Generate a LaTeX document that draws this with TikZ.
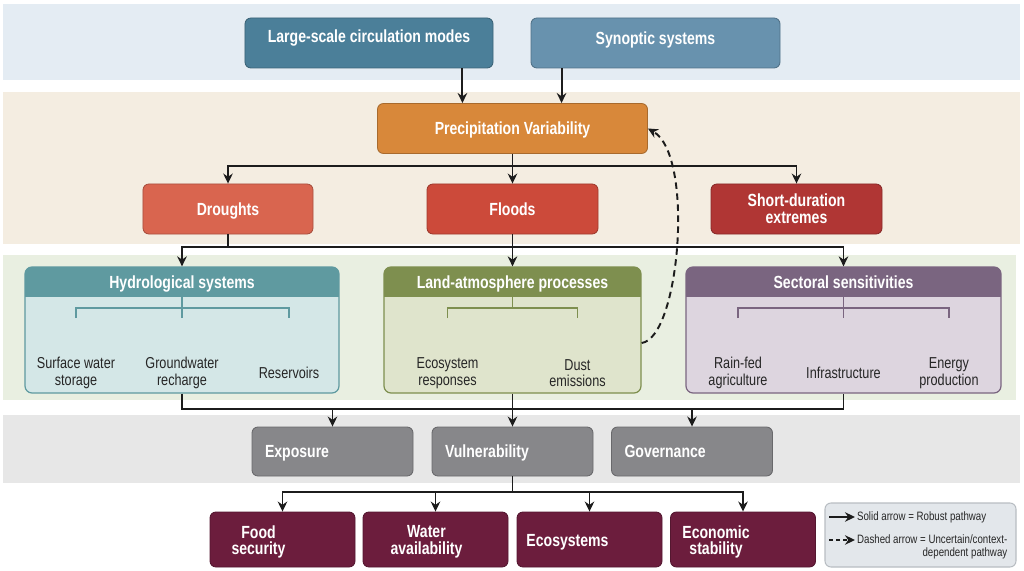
\documentclass[tikz,border=0pt]{standalone}
\usepackage{fontspec}
\setmainfont{Liberation Sans}[FakeStretch=0.8]
\usetikzlibrary{arrows.meta,positioning}

\definecolor{bandA}{HTML}{E4ECF3}
\definecolor{bandB}{HTML}{F4EDE1}
\definecolor{bandC}{HTML}{E9EFE1}
\definecolor{bandD}{HTML}{E7E7E7}
\definecolor{lscmC}{HTML}{4B7F99}
\definecolor{synC}{HTML}{6892AE}
\definecolor{precC}{HTML}{D8883A}
\definecolor{drC}{HTML}{D9654F}
\definecolor{flC}{HTML}{CC4A3A}
\definecolor{shC}{HTML}{B03634}
\definecolor{hydC}{HTML}{5F9AA0}
\definecolor{hydCL}{HTML}{D4E7E7}
\definecolor{lanC}{HTML}{7E8F4F}
\definecolor{lanCL}{HTML}{DFE4CC}
\definecolor{secC}{HTML}{7A6580}
\definecolor{secCL}{HTML}{DDD5DF}
\definecolor{midC}{HTML}{87878A}
\definecolor{outC}{HTML}{6C1D3D}
\definecolor{legC}{HTML}{E3E7EB}
\definecolor{legB}{HTML}{B8BDC2}
\definecolor{arrC}{HTML}{1C1C1C}
\definecolor{txtC}{HTML}{262626}

\begin{document}
\begin{tikzpicture}[x=0.2mm,y=-0.2mm,
    box/.style={rounded corners=1.2mm, fill=#1, draw=#1!78!black, line width=0.5pt, text=white,
      font=\bfseries\fontsize{10}{9.5}\selectfont, align=center, minimum height=10mm, inner sep=1pt},
    oneline/.style={text height=3.2mm, text depth=0.7mm},
    grp/.style={rounded corners=1.4mm, draw=#1, fill=#1L, line width=0.7pt, minimum height=25.2mm,
      path picture={\fill[#1, sharp corners] (path picture bounding box.north west) rectangle ([yshift=-6mm]path picture bounding box.north east);}},
    hd/.style={oneline, text=white, font=\bfseries\fontsize{10}{11}\selectfont},
    item/.style={text=txtC, font=\fontsize{9}{9.5}\selectfont, align=center},
    brk/.style={draw=#1, line width=0.6pt},
    midbox/.style={box=midC, oneline, minimum width=32.2mm, minimum height=9.8mm, text width=27mm, align=left, inner xsep=2.6mm},
    outbox/.style={box=outC, minimum width=29mm, minimum height=11mm},
    outtxt/.style={text=white, font=\bfseries\fontsize{10}{9.5}\selectfont, align=center, yshift=-0.5mm},
    arr/.style={draw=arrC, line width=1.1pt, -{Stealth[length=2mm,width=1.9mm]}},
    link/.style={draw=arrC, line width=1.1pt},
    dasharr/.style={arr, dash pattern=on 1.3mm off 0.9mm},
    legtxt/.style={text=txtC, font=\fontsize{6.9}{7.5}\selectfont, inner sep=1pt}
  ]
    \useasboundingbox (0,0) rectangle (1024,571);
    \fill[bandA] (3,4) rectangle (1020,80);
    \fill[bandB] (3,92) rectangle (1020,244);
    \fill[bandC] (3,255) rectangle (1016,400);
    \fill[bandD] (3,415) rectangle (1020,483);

    \node[box=lscmC, minimum width=49.6mm, text height=3.2mm, text depth=3.5mm] (lscm) at (369,43) {Large-scale circulation modes};
    \node[box=synC, minimum width=49.8mm, text height=3.2mm, text depth=2.7mm] (syn) at (655.5,43) {Synoptic systems};
    \node[box=precC, oneline, minimum width=54mm] (prec) at (512.5,128.5) {Precipitation Variability};
    \node[box=drC, oneline, minimum width=34mm] (dro) at (228,209) {Droughts};
    \node[box=flC, oneline, minimum width=34.2mm] (flo) at (512.5,209) {Floods};
    \node[box=shC, minimum width=34.2mm] (sho) at (796.5,209) {Short-duration\\extremes};

    \node[grp=hydC, minimum width=62.8mm] (hyd) at (182,330) {};
    \node[grp=lanC, minimum width=51.4mm] (lan) at (512.5,330) {};
    \node[grp=secC, minimum width=63mm] (sec) at (843.5,330) {};
    \node[hd] (hydT) at (182,282) {Hydrological systems};
    \node[hd] (lanT) at (512.5,282) {Land-atmosphere processes};
    \node[hd] (secT) at (843.5,282) {Sectoral sensitivities};

    \node[item] (sw) at (76,373) {Surface water\\storage};
    \node[item] (gw) at (182,373) {Groundwater\\recharge};
    \node[item] (rv) at (289,373) {Reservoirs};
    \node[item] (er) at (447.5,373) {Ecosystem\\responses};
    \node[item] (de) at (577.5,373) {Dust\\emissions};
    \node[item] (ra) at (738,373) {Rain-fed\\agriculture};
    \node[item] (inf) at (843.5,373) {Infrastructure};
    \node[item] (en) at (949,373) {Energy\\production};

    \coordinate (bk1) at (0,308);
    \coordinate (bk2) at (0,318);
    \draw[brk=hydC] (sw.north |- bk2) -- (sw.north |- bk1) -- (rv.north |- bk1) -- (rv.north |- bk2);
    \draw[brk=hydC] ([yshift=-6mm]hyd.north) -- (gw.north |- bk2);
    \draw[brk=lanC] (er.north |- bk2) -- (er.north |- bk1) -- (de.north |- bk1) -- (de.north |- bk2);
    \draw[brk=lanC] ([yshift=-6mm]lan.north) -- (lan.north |- bk1);
    \draw[brk=secC] (ra.north |- bk2) -- (ra.north |- bk1) -- (en.north |- bk1) -- (en.north |- bk2);
    \draw[brk=secC] ([yshift=-6mm]sec.north) -- (inf.north |- bk2);

    \node[midbox] (expo) at (332.5,451.5) {Exposure};
    \node[midbox] (vul) at (512.5,451.5) {Vulnerability};
    \node[midbox] (gov) at (692,451.5) {Governance};

    \node[outbox, label={[outtxt,xshift=-4.8mm]center:{Food\\security}}] (food) at (282.5,539.5) {};
    \node[outbox, label={[outtxt,xshift=-1.8mm]center:{Water\\availability}}] (wat) at (435.5,539.5) {};
    \node[outbox, label={[outtxt,xshift=-4.4mm]center:{Ecosystems}}] (eco) at (589.5,539.5) {};
    \node[outbox, label={[outtxt,xshift=-5.4mm]center:{Economic\\stability}}] (econ) at (743,539.5) {};

    \coordinate (lsOut) at ([xshift=-6.2mm]lscm.south east);
    \coordinate (syOut) at ([xshift=6.2mm]syn.south west);
    \draw[arr] (lsOut) -- (lsOut |- prec.north);
    \draw[arr] (syOut) -- (syOut |- prec.north);

    \coordinate (pb) at ([yshift=-2.4mm]prec.south);
    \draw[arr] (prec.south) -- (pb) -| (dro.north);
    \draw[arr] (pb) -| (sho.north);
    \draw[arr] (prec.south) -- (flo.north);

    \coordinate (db) at ([yshift=-2.6mm]dro.south);
    \draw[link] (dro.south) -- (db);
    \draw[arr] (db) -| (hyd.north);
    \draw[arr] (db) -| (sec.north);
    \draw[arr] (flo.south) -- (lan.north);

    \draw[dasharr] ([yshift=-2.6mm]lan.east) .. controls +(38,-5) and +(47,27) .. (prec.east);

    \coordinate (hb) at ([yshift=-3mm]hyd.south);
    \draw[link] (hyd.south) -- (hb) -| (sec.south);
    \draw[arr] (hb -| expo.north) -- (expo.north);
    \draw[arr] (lan.south) -- (vul.north);
    \draw[arr] (hb -| gov.north) -- (gov.north);

    \coordinate (vb) at ([yshift=-3.2mm]vul.south);
    \draw[arr] (vul.south) -- (vb) -| (food.north);
    \draw[arr] (vb) -| (wat.north);
    \draw[arr] (vb) -| (eco.north);
    \draw[arr] (vb) -| (econ.north);

    \node[draw=legB, fill=legC, rounded corners=1.2mm, line width=0.6pt, minimum width=38.2mm, minimum height=12.8mm] (leg) at (920.5,535) {};
    \node[legtxt, anchor=west] (legS) at (855,517) {Solid arrow = Robust pathway};
    \node[legtxt, anchor=west, align=right] (legD) at (855,546.5) {Dashed arrow = Uncertain/context-\\dependent pathway};
    \coordinate (legS0) at (829,517);
    \coordinate (legD0) at (829,540);
    \draw[arr, line width=0.9pt] (legS0) -- (legS.west);
    \draw[arr, line width=0.9pt, dash pattern=on 0.8mm off 0.6mm] (legD0) -- (legD.west |- legD0);
\end{tikzpicture}
\end{document}
